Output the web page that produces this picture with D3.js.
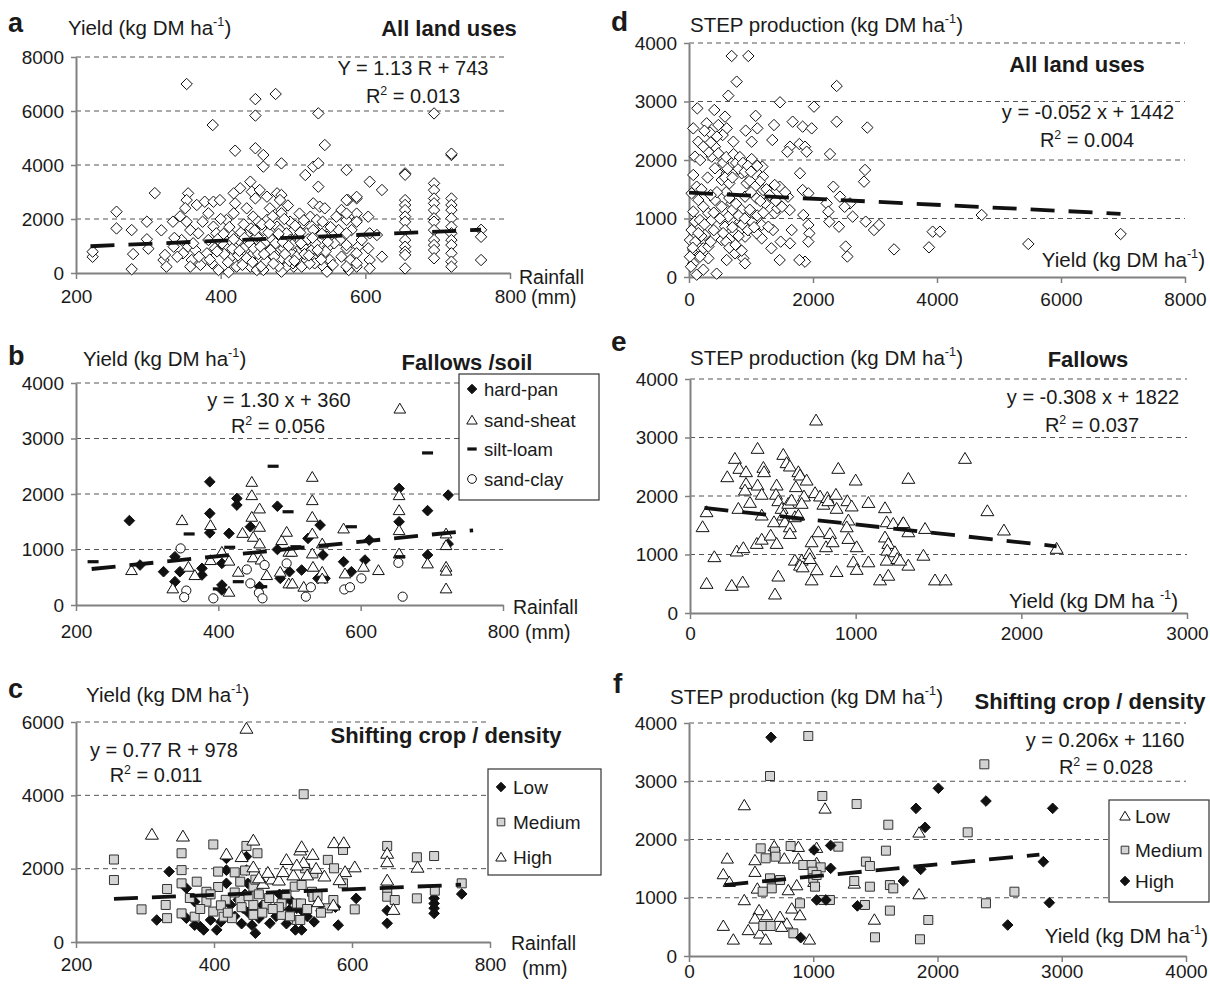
<!DOCTYPE html>
<html><head><meta charset="utf-8">
<script src="https://cdn.jsdelivr.net/npm/d3@7"></script>
<style>body{margin:0;background:#fff}svg{display:block;font-family:"Liberation Sans",Arial,sans-serif}</style>
</head><body><svg id="chart" width="1210" height="985"></svg>
<script>
// ---------- DATA ----------
// Panel a: rainfall (mm) vs yield (kg DM/ha), all land uses
const aPoints = [
[223,600],[223,790],[256,2270],[256,1650],[277,1590],[277,140],[279,700],[298,1900],[298,1250],[300,900],[309,2960],[318,1580],
[353,7000],[389,5480],[420,4530],[448,6440],[448,5830],[448,4620],[459,4370],[459,3940],[476,6630],[484,4060],
[321,480],[325,235],[323,670],[334,1900],[335,975],
[355,2950],[353,2700],[351,2400],[353,1900],[358,1590],[346,1220],[355,975],[348,730],[360,480],[358,235],[367,2520],[369,1470],[365,850],[372,300],
[378,2640],[390,2640],[399,2700],[383,2210],[390,1716],[383,1222],[392,913],[381,728],[388,358],[397,111],[394,1469],
[408,1963],[413,1469],[420,2580],[418,2210],[406,975],[415,605],[422,235],[411,30],[425,1222],[418,2950],[427,3136],
[441,3383],[443,3012],[448,2765],[454,3074],[436,2395],[445,2086],[452,1901],[438,1469],[448,1222],[459,1592],[434,975],[445,728],[454,481],[441,235],[450,111],[459,975],[459,111],
[464,2827],[478,2950],[484,2889],[468,2395],[484,2333],[464,1963],[478,1716],[496,1901],[501,1592],[491,1345],[471,1222],[482,913],[498,852],[466,605],[478,358],[487,173],[501,235],[507,1222],
[482,2704],[484,2210],[482,1592],[491,1469],[496,1222],[487,913],[498,728],[482,481],[491,235],[484,49],[500,358],
[517,3630],[528,3938],[535,4062],[544,4740],[535,5913],[535,3197],[528,2580],[537,2457],[544,2395],[524,2086],[533,1963],[542,1716],[514,1839],[519,1469],[528,1592],[547,1345],[514,975],[526,852],[537,728],[549,975],[519,481],[530,358],[542,235],[547,49],[512,235],[551,481],
[567,2333],[576,2704],[588,2765],[574,1963],[581,1592],[565,1222],[574,913],[590,975],[567,605],[579,481],[588,235],[577,111],[560,2086],[588,1963],[595,1222],[563,1592],
[606,3383],[623,3074],[604,2086],[606,1469],[616,1407],[604,913],[623,605],[606,481],[606,173],
[655,3690],[655,3640],[655,2700],[655,2520],[655,2330],[655,2090],[655,1900],[655,1590],[655,1220],[655,975],[655,790],[655,670],[655,170],
[695,5910],[695,3320],[695,3070],[695,2760],[695,2580],[695,2330],[695,2025],[695,1900],[695,1590],[695,1220],[695,1035],[695,850],[695,545],
[719,4370],[719,4420],[719,2760],[719,2520],[719,2330],[719,2025],[719,1715],[719,1470],[719,1220],[719,1035],[719,730],[719,420],[719,235],
[760,1600],[760,1340],[760,480],
[588,2820],[588,2200],[588,1900],[588,730],[588,360],[574,3815],[574,2700],[574,2200],[574,1470],[574,1035],[574,235],
[402,1100],[405,700],[410,400],[412,1700],[416,900],[424,650],[428,1500],[430,300],[432,1800],[436,550],[440,1100],[442,1650],[444,400],[446,900],[450,1350],[452,700],[456,250],[457,1800],[461,1100],[463,450],[466,1500],[469,850],[472,2100],[474,600],[476,1100],[480,250],[486,1150],[489,700],[493,2500],[495,450],[499,1050],[503,1750],[505,600],[509,2200],[511,1100],[516,700],[521,1250],[523,350],[531,1100],[539,500],[540,1450],[545,800],[552,1700],[555,300],[557,1100],[362,1100],[370,600],[375,1900],[385,500],[396,1250],[400,2000],[336,1300],[340,600],[344,2100],[395,800],
[404,1450],[418,1250],[426,820],[433,1300],[447,1580],[455,980],[460,700],[468,1800],[473,350],[480,1450],[488,2000],[494,1000],[502,450],[510,1500],[515,1950],[522,650],[527,1300],[534,850],[541,1900],[548,1150]
];
// Panel b: fallows by soil type
const bHardPan = [[275,1520],[290,720],[323,600],[339,870],[339,420],[346,600],[377,660],[377,540],[388,2220],[388,1650],[388,1300],[405,750],[405,360],[405,270],[415,1290],[426,1920],[426,1800],[445,1410],[458,330],[483,1780],[483,1000],[487,480],[500,600],[517,630],[526,1200],[543,1440],[547,900],[550,480],[540,480],[576,780],[587,600],[606,810],[612,1170],[654,2100],[654,1500],[694,1700],[694,900],[723,1980],[723,1100]];
const bSandSheat = [[278,630],[349,1530],[336,300],[358,690],[367,540],[389,1440],[389,810],[405,960],[415,800],[415,240],[434,1300],[428,600],[447,2220],[447,1980],[447,1590],[449,1230],[458,1740],[458,1410],[458,1110],[449,860],[460,820],[468,540],[489,1170],[496,1320],[499,960],[499,390],[487,600],[655,3540],[532,2310],[532,1890],[532,1590],[532,1290],[532,930],[533,690],[503,960],[504,390],[520,330],[546,1110],[546,600],[546,480],[576,1380],[578,570],[604,690],[625,630],[654,1980],[654,1710],[654,1350],[654,930],[694,750],[720,1290],[720,1080],[720,690],[720,620],[720,300]];
const bSiltLoam = [[224,780],[359,1280],[477,2500],[498,1680],[416,1040],[400,290],[461,330],[694,2740],[587,1410],[655,870],[509,1050],[428,420]];
const bSandClay = [[347,1020],[355,260],[352,140],[393,120],[440,640],[445,390],[457,220],[462,120],[465,720],[496,750],[523,150],[530,320],[577,280],[585,320],[601,480],[653,760],[659,150]];
// Panel c: shifting crop by density
const cLow = [[335,1920],[317,600],[360,1465],[360,650],[372,1100],[372,460],[380,420],[385,330],[404,330],[418,2280],[418,1960],[418,1600],[424,1010],[447,2330],[447,1960],[449,1600],[442,920],[455,460],[460,240],[481,510],[502,1150],[509,870],[518,330],[510,1145],[520,920],[527,330],[527,870],[580,460],[606,1190],[651,860],[651,510],[719,1190],[719,1050],[719,920],[719,780],[759,1310],[576,950],
[395,600],[410,550],[430,700],[435,1150],[445,1300],[450,800],[465,650],[470,1000],[490,700],[495,1300],[505,500],[535,700],[545,550],[555,850],[440,500]];
const cMedium = [[255,2250],[255,1690],[295,890],[330,1010],[332,1445],[332,650],[353,2420],[353,1960],[353,1600],[353,780],[375,1645],[372,690],[389,1370],[389,1100],[399,2660],[406,1920],[406,1500],[399,830],[417,1150],[414,690],[426,650],[438,1645],[438,1150],[447,2620],[457,1510],[463,2420],[457,1010],[457,740],[476,1010],[498,1050],[498,740],[517,1510],[520,1050],[520,600],[530,4030],[532,2010],[527,1555],[544,1870],[542,1370],[544,1230],[526,1050],[525,600],[494,950],[565,2240],[574,2010],[587,2510],[587,1600],[573,1145],[565,920],[604,890],[651,2620],[651,1460],[651,1235],[662,1145],[694,2310],[694,1190],[719,2345],[720,1400],[759,1600],
[365,1200],[380,900],[395,1300],[410,1000],[420,800],[430,1350],[440,950],[450,1250],[465,1300],[470,800],[480,1200],[485,900],[505,1300],[510,700],[535,900],[550,1250],[555,800],[460,1700],[445,1950],[430,1900]];
const cHigh = [[447,5830],[310,2940],[355,2890],[418,2400],[457,2780],[457,2050],[440,2330],[471,1600],[484,1720],[494,1690],[500,1920],[515,1830],[525,2510],[527,2600],[543,2390],[530,2170],[535,1830],[548,2010],[574,2710],[588,2710],[590,1920],[582,1700],[604,2050],[551,1100],[573,1010],[651,2420],[651,2190],[651,1690],[660,890],[695,2040],
[465,1750],[478,1900],[520,2100],[560,1800],[505,2250]];
// Panel d: yield vs STEP production, all land uses
const dPoints = [
[688,3778],[957,3778],[769,3339],[634,3100],[134,2883],[408,2855],[69,2541],[150,2313],[285,2627],[339,2470],[581,2741],[608,2541],[473,2598],[543,2427],[715,2313],[914,2502],[1075,2755],[1102,2541],[1011,2313],[1371,2598],[1468,2986],[1344,2342],[1672,2655],[1629,2228],[1586,2142],[1780,2273],[1833,2570],[1871,2228],[1898,2142],[1979,2541],[2016,2912],[2382,3265],[2382,2655],[2274,2102],[2328,1544],[2435,1373],[2220,1259],[2247,1117],[2263,946],[2419,860],[2597,1259],[2640,1031],[2510,1200],[2527,521],[2554,350],[2876,2555],[2839,1830],[2823,1630],[2850,946],[2984,803],[3065,889],[3307,472],
[1790,1773],[1833,1487],[1925,1430],[1844,1060],[1925,889],[1941,746],[1925,604],[1871,262],[1780,290],[1656,803],[1629,575],[1479,604],[1462,290],[1328,490],[1355,803],[1382,1089],[1425,1174],[1597,1373],[1624,1145],[1462,1544],[1382,1573],[1194,1487],[1194,1715],[1140,1630],[1183,1887],[1065,1944],[1011,2016],[1172,889],[1172,660],[1280,860],[1011,946],[1038,1089],[904,689],[876,319],[904,233],[742,404],[608,290],[446,57],[312,319],[177,347],[69,233],[124,40],[231,125],[42,803],[15,632],[69,462],[150,521],[231,490],[312,521],[258,718],[312,1089],[419,1316],[366,974],[527,1202],[527,632],[581,860],[634,1031],[688,1259],[742,746],[823,946],[850,1145],[904,1373],[930,1601],[850,1773],[796,2001],[688,1944],[608,1773],[554,1887],[527,1658],[419,1858],[366,2058],[312,2142],[231,2228],[419,2228],[473,2114],[96,2058],[69,1744],[124,1544],[42,1430],[150,1316],[231,1202],[69,1117],[96,946],[177,974],[15,347],[31,176],[1065,1544],[1092,1344],[1226,1259],[1092,746],
[4721,1060],[3930,775],[4048,775],[3871,507],[5473,565],[6962,735],
[550,1950],[600,2050],[620,1850],[580,1700],[650,1600],[700,1700],[720,2100],[760,1950],[800,1850],[820,2050],[870,1950],[900,1800],[950,1900],[980,1650],[600,1450],[650,1350],[700,1150],[760,1250],[800,1050],[860,900],[900,1000],[950,800],[980,1150],[1000,1450],[1050,850],[1100,1050],[1150,1300],[1200,1100],[1250,1500],[450,1450],[500,1000],[550,750],[600,600],[650,500],[700,850],[750,550],[800,700],[850,450],[400,800],[350,600],[250,900],[200,700],[100,600],[150,750],[60,500],[200,1500],[300,1700],[350,1400],[400,1100],[450,2400],[250,2500],[350,2300],[180,2000],[1300,1400],[1400,1300],[1500,1200],[1550,1450],[1100,1900],[1000,1800]
];
// Panel e: fallows
const ePoints = [
[761,3299],[76,1476],[100,1732],[100,507],[147,963],[225,2330],[271,2644],[298,2473],[338,2416],[338,2216],[332,2102],[292,1789],[362,1892],[282,1060],[322,1117],[252,473],[318,530],[408,2815],[408,2188],[433,2030],[443,2490],[447,2416],[433,1675],[403,1190],[433,1262],[487,1332],[507,1560],[523,1190],[523,2188],[519,2030],[533,1920],[513,325],[533,632],[563,2712],[583,2570],[603,2513],[553,1789],[563,1675],[573,1560],[593,1875],[603,1474],[603,1360],[613,1932],[633,1646],[639,2160],[654,2416],[664,2359],[704,2273],[688,2000],[674,1875],[654,1675],[633,904],[674,904],[664,818],[680,789],[720,1018],[724,932],[734,1218],[734,566],[765,740],[775,1389],[755,2058],[785,2000],[805,1860],[821,1133],[829,1975],[835,1920],[845,1360],[861,1218],[881,2030],[885,1790],[895,2473],[885,710],[950,1920],[956,1590],[946,1474],[956,1275],[976,1830],[986,875],[1000,2273],[1006,1133],[1006,746],[1077,875],[1077,1890],[1147,566],[1177,1800],[1187,1560],[1177,1300],[1197,1190],[1191,1075],[1187,904],[1197,646],[1227,1532],[1237,1047],[1251,932],[1284,1532],[1318,1389],[1318,2302],[1318,818],
[1660,2644],[1795,1749],[1895,1419],[2213,1106],[1288,1545],[1419,1446],[1409,988],[1268,904],[1479,566],[1543,566]
];
// Panel f: shifting crop by density
const fLow = [[445,2592],[1095,2535],[308,1677],[276,1408],[324,1276],[531,1648],[531,1448],[550,1161],[445,962],[686,1888],[767,1677],[799,1133],[880,1877],[880,1677],[867,1218],[827,819],[893,704],[1027,1860],[1027,1600],[1005,1276],[564,790],[531,647],[625,704],[733,676],[787,561],[746,504],[569,390],[617,286],[477,448],[276,522],[357,286],[969,286],[1330,1247],[1492,628],[1851,2123],[1851,1064]];
const fMedium = [[960,3777],[652,3090],[1073,2747],[1349,2609],[1604,2254],[1585,1808],[577,1848],[692,1791],[697,1705],[617,1677],[818,1888],[920,1562],[987,1562],[1060,1522],[995,1448],[1000,1333],[1027,1390],[1014,1190],[652,1333],[666,1161],[733,1304],[593,1104],[893,904],[840,389],[598,515],[657,515],[1134,962],[1081,962],[1202,1877],[1330,1287],[1456,1190],[1424,1620],[1456,1545],[1416,876],[1497,321],[1617,1218],[1644,1161],[1617,779],[2377,3291],[2243,2123],[2619,1104],[2390,905],[1926,618],[1859,287]];
const fHigh = [[660,3754],[1006,1820],[1140,1897],[1140,1505],[1027,962],[1102,962],[1355,860],[899,315],[1725,1287],[2007,2879],[1827,2535],[2390,2660],[2927,2535],[1900,2209],[1865,1488],[2852,1619],[2900,915],[2565,532]];
// Trend lines: [slope, intercept, xStart, xEnd]
const trendA = [1.13, 743, 220, 760];
const trendB = [1.30, 360, 222, 758];
const trendC = [0.77, 978, 255, 758];
const trendD = [-0.052, 1442, 0, 6960];
const trendE = [-0.308, 1822, 87, 2213];
const trendF = [0.206, 1160, 284, 2820];
// Tick values
const rainTicks = [200, 400, 600, 800];
const yTicks8000 = [0, 2000, 4000, 6000, 8000];
const yTicks4000 = [0, 1000, 2000, 3000, 4000];
const yTicks6000 = [0, 2000, 4000, 6000];
const dTicksX = [0, 2000, 4000, 6000, 8000];
const eTicksX = [0, 1000, 2000, 3000];
const fTicksX = [0, 1000, 2000, 3000, 4000];
// Legend labels
const bLegend = ["hard-pan", "sand-sheat", "silt-loam", "sand-clay"];
const cLegend = ["Low", "Medium", "High"];
const fLegend = ["Low", "Medium", "High"];

// ---------- DRAWING ----------
const svg = d3.select("#chart");
svg.append("rect").attr("width",1210).attr("height",985).attr("fill","#fff");
const TXT = "#1a1a1a";
const AT = 20.5; // axis title size

const shapes = {
  diamondOpen: {path: h=>`M0,${-h}L${h},0L0,${h}L${-h},0Z`, size:5.7, fill:"#fff", stroke:"#111", sw:1},
  diamondFill: {path: h=>`M0,${-h}L${h},0L0,${h}L${-h},0Z`, size:5.6, fill:"#111", stroke:"#111", sw:1},
  triangle: {path: h=>`M0,${-h}L${h*1.1},${h*0.85}L${-h*1.1},${h*0.85}Z`, size:5.6, fill:"#fff", stroke:"#111", sw:1},
  square: {path: h=>`M${-h},${-h}H${h}V${h}H${-h}Z`, size:4.5, fill:"#d3d3d3", stroke:"#333", sw:1},
  circle: {path: h=>`M${h},0A${h},${h} 0 1 1 ${-h},0A${h},${h} 0 1 1 ${h},0Z`, size:4.6, fill:"#fff", stroke:"#111", sw:1},
  dash: {path: h=>`M${-h},-1.6H${h}V1.6H${-h}Z`, size:5.5, fill:"#111", stroke:"none", sw:0}
};

function addText(g, x, y, parts, opt={}) {
  const fs = opt.size||19;
  const t = g.append("text").attr("x",x).attr("y",y)
    .attr("font-size",fs).attr("fill",TXT)
    .attr("text-anchor",opt.anchor||"start")
    .attr("font-weight",opt.bold?"bold":"normal");
  let raised = false;
  parts.forEach(p=>{
    const sup = Array.isArray(p);
    const s = t.append("tspan").text(sup?p[0]:p);
    if (sup) { s.attr("dy",-fs*0.42).attr("font-size",fs*0.62); raised = true; }
    else if (raised) { s.attr("dy",fs*0.42); raised = false; }
  });
  return t;
}

function drawMarks(g, x, y, data, shapeKey, scale=1) {
  const s = shapes[shapeKey];
  g.append("g").selectAll("path").data(data).join("path")
    .attr("d", s.path(s.size*scale))
    .attr("transform", d=>`translate(${x(d[0])},${y(d[1])})`)
    .attr("fill", s.fill).attr("stroke", s.stroke).attr("stroke-width", s.sw);
}

function panel(cfg) {
  const g = svg.append("g");
  const x = d3.scaleLinear().domain(cfg.xd).range([cfg.l, cfg.r]);
  const y = d3.scaleLinear().domain(cfg.yd).range([cfg.b, cfg.t]);
  g.append("g").selectAll("line").data(cfg.yt.filter(v=>v>0)).join("line")
    .attr("x1",cfg.l).attr("x2",cfg.gr).attr("y1",d=>y(d)).attr("y2",d=>y(d))
    .attr("stroke","#555").attr("stroke-width",1).attr("stroke-dasharray","5,4");
  const ya = g.append("g").attr("transform",`translate(${cfg.l},0)`)
    .call(d3.axisLeft(y).tickValues(cfg.yt).tickSize(5).tickSizeOuter(0).tickPadding(7).tickFormat(d3.format("d")));
  const xa = g.append("g").attr("transform",`translate(0,${cfg.b})`)
    .call(d3.axisBottom(x).tickValues(cfg.xt).tickSize(6).tickSizeOuter(0).tickPadding(cfg.xpad).tickFormat(d3.format("d")));
  [ya, xa].forEach(a=>{
    a.select(".domain").attr("stroke","#808080").attr("stroke-width",2);
    a.selectAll(".tick line").attr("stroke","#808080").attr("stroke-width",1.5);
    a.selectAll("text").attr("font-size",19).attr("fill",TXT)
      .attr("font-family",'"Liberation Sans",Arial,sans-serif');
  });
  cfg.series.forEach(s=>drawMarks(g, x, y, s.data, s.shape, s.scale||1));
  const t = cfg.trend;
  g.append("line")
    .attr("x1",x(t[2])).attr("y1",y(t[0]*t[2]+t[1]))
    .attr("x2",x(t[3])).attr("y2",y(t[0]*t[3]+t[1]))
    .attr("stroke","#111").attr("stroke-width",3.8).attr("stroke-dasharray","24,14");
  if (cfg.legend) {
    const L = cfg.legend;
    g.append("rect").attr("x",L.x).attr("y",L.y).attr("width",L.w).attr("height",L.h)
      .attr("fill","#fff").attr("stroke","#333").attr("stroke-width",1.2);
    L.items.forEach((it,i)=>{
      const yy = L.y + L.rows[i];
      const s = shapes[it.shape];
      g.append("path").attr("d", s.path(s.size*(it.scale||0.9)))
        .attr("transform",`translate(${L.x+L.mx},${yy})`)
        .attr("fill",s.fill).attr("stroke",s.stroke).attr("stroke-width",s.sw);
      addText(g, L.x+L.tx, yy+7, [it.label], {size:L.fs||18.5});
    });
  }
  return g;
}

// Panel a
const gA = panel({l:76,r:510,gr:508,t:57,b:273,xd:[200,800],yd:[0,8000],xt:rainTicks,yt:yTicks8000,xpad:11,
  series:[{data:aPoints,shape:"diamondOpen"}], trend:trendA});
addText(gA, 8, 32, ["a"], {size:27,bold:true});
addText(gA, 68, 35, ["Yield (kg DM ha",["-1"],")"], {size:AT});
addText(gA, 449, 36, ["All land uses"], {size:22,bold:true,anchor:"middle"});
addText(gA, 413, 75, ["Y = 1.13 R + 743"], {size:20,anchor:"middle"});
addText(gA, 413, 103, ["R",["2"]," = 0.013"], {size:20,anchor:"middle"});
addText(gA, 519, 284, ["Rainfall"], {size:19.5});
addText(gA, 531, 304, ["(mm)"], {size:19.5});

// Panel b
const gB = panel({l:76,r:503,gr:503,t:383,b:605,xd:[200,800],yd:[0,4000],xt:rainTicks,yt:yTicks4000,xpad:14,
  series:[{data:bHardPan,shape:"diamondFill",scale:0.95},{data:bSandSheat,shape:"triangle",scale:0.95},
          {data:bSiltLoam,shape:"dash"},{data:bSandClay,shape:"circle"}], trend:trendB,
  legend:{x:459,y:374,w:140,h:126,mx:13,tx:25,rows:[15,46,75,105],
    items:[{shape:"diamondFill",label:bLegend[0],scale:0.85},{shape:"triangle",label:bLegend[1],scale:0.85},
           {shape:"dash",label:bLegend[2],scale:0.85},{shape:"circle",label:bLegend[3],scale:0.95}]}});
addText(gB, 8, 365, ["b"], {size:27,bold:true});
addText(gB, 83, 366, ["Yield (kg DM ha",["-1"],")"], {size:AT});
addText(gB, 467, 370, ["Fallows /soil"], {size:22,bold:true,anchor:"middle"});
addText(gB, 279, 407, ["y = 1.30 x + 360"], {size:20,anchor:"middle"});
addText(gB, 278, 433, ["R",["2"]," = 0.056"], {size:20,anchor:"middle"});
addText(gB, 513, 614, ["Rainfall"], {size:19.5});
addText(gB, 525, 639, ["(mm)"], {size:19.5});

// Panel c
const gC = panel({l:76,r:490,gr:487,t:722,b:942,xd:[200,800],yd:[0,6000],xt:rainTicks,yt:yTicks6000,xpad:10,
  series:[{data:cLow,shape:"diamondFill",scale:0.95},{data:cMedium,shape:"square"},{data:cHigh,shape:"triangle",scale:1.05}], trend:trendC,
  legend:{x:488,y:769,w:113,h:106,mx:13,tx:25,rows:[18,53,88],fs:19,
    items:[{shape:"diamondFill",label:cLegend[0],scale:0.85},{shape:"square",label:cLegend[1],scale:0.85},
           {shape:"triangle",label:cLegend[2],scale:0.85}]}});
addText(gC, 8, 698, ["c"], {size:27,bold:true});
addText(gC, 86, 702, ["Yield (kg DM ha",["-1"],")"], {size:AT});
addText(gC, 446, 743, ["Shifting crop / density"], {size:22,bold:true,anchor:"middle"});
addText(gC, 164, 757, ["y = 0.77 R + 978"], {size:20,anchor:"middle"});
addText(gC, 156, 782, ["R",["2"]," = 0.011"], {size:20,anchor:"middle"});
addText(gC, 511, 950, ["Rainfall"], {size:19.5});
addText(gC, 522, 975, ["(mm)"], {size:19.5});

// Panel d
const gD = panel({l:689,r:1185,gr:1185,t:43,b:277,xd:[0,8000],yd:[0,4000],xt:dTicksX,yt:yTicks4000,xpad:10,
  series:[{data:dPoints,shape:"diamondOpen"}], trend:trendD});
addText(gD, 611, 31, ["d"], {size:28,bold:true});
addText(gD, 690, 32, ["STEP production (kg DM ha",["-1"],")"], {size:AT});
addText(gD, 1077, 72, ["All land uses"], {size:22,bold:true,anchor:"middle"});
addText(gD, 1088, 119, ["y = -0.052 x + 1442"], {size:20,anchor:"middle"});
addText(gD, 1087, 147, ["R",["2"]," = 0.004"], {size:20,anchor:"middle"});
addText(gD, 1205, 267, ["Yield (kg DM ha",["-1"],")"], {size:AT,anchor:"end"});

// Panel e
const gE = panel({l:690,r:1187,gr:1187,t:379,b:613,xd:[0,3000],yd:[0,4000],xt:eTicksX,yt:yTicks4000,xpad:8,
  series:[{data:ePoints,shape:"triangle",scale:1.05}], trend:trendE});
addText(gE, 611, 351, ["e"], {size:28,bold:true});
addText(gE, 690, 365, ["STEP production (kg DM ha",["-1"],")"], {size:AT});
addText(gE, 1088, 367, ["Fallows"], {size:22,bold:true,anchor:"middle"});
addText(gE, 1093, 404, ["y = -0.308 x + 1822"], {size:20,anchor:"middle"});
addText(gE, 1092, 432, ["R",["2"]," = 0.037"], {size:20,anchor:"middle"});
addText(gE, 1178, 608, ["Yield (kg DM ha ",["-1"],")"], {size:AT,anchor:"end"});

// Panel f
const gF = panel({l:689,r:1186,gr:1186,t:723,b:956,xd:[0,4000],yd:[0,4000],xt:fTicksX,yt:yTicks4000,xpad:3,
  series:[{data:fLow,shape:"triangle",scale:1.0},{data:fMedium,shape:"square"},{data:fHigh,shape:"diamondFill",scale:0.95}], trend:trendF,
  legend:{x:1109,y:800,w:100,h:102,mx:16,tx:26,rows:[16,50,81],fs:19,
    items:[{shape:"triangle",label:fLegend[0],scale:0.85},{shape:"square",label:fLegend[1],scale:0.85},
           {shape:"diamondFill",label:fLegend[2],scale:0.85}]}});
addText(gF, 613, 693, ["f"], {size:28,bold:true});
addText(gF, 670, 704, ["STEP production (kg DM ha",["-1"],")"], {size:AT});
addText(gF, 1090, 709, ["Shifting crop / density"], {size:22,bold:true,anchor:"middle"});
addText(gF, 1105, 747, ["y = 0.206x + 1160"], {size:20,anchor:"middle"});
addText(gF, 1106, 774, ["R",["2"]," = 0.028"], {size:20,anchor:"middle"});
addText(gF, 1208, 943, ["Yield (kg DM ha",["-1"],")"], {size:AT,anchor:"end"});
</script></body></html>
